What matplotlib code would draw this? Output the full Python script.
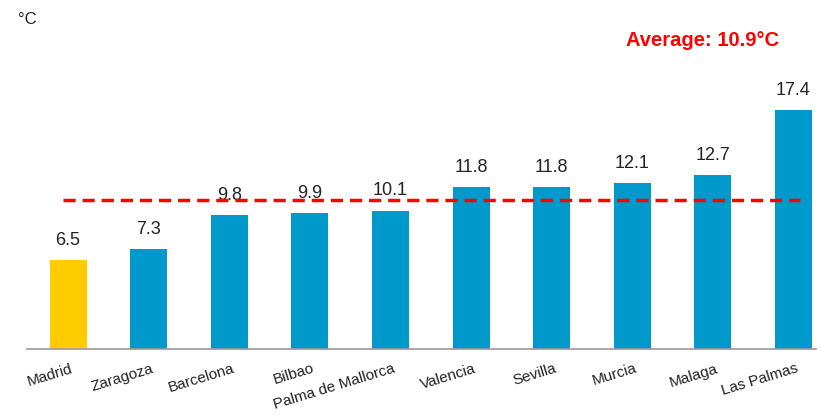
import matplotlib
matplotlib.use('Agg')
import matplotlib.pyplot as plt
import numpy as np

cities = ['Madrid', 'Zaragoza', 'Barcelona', 'Bilbao', 'Palma de Mallorca',
          'Valencia', 'Sevilla', 'Murcia', 'Malaga', 'Las Palmas']
temps = [6.5, 7.3, 9.8, 9.9, 10.1, 11.8, 11.8, 12.1, 12.7, 17.4]
average = 10.9

plt.rcParams['font.family'] = ['Liberation Sans', 'DejaVu Sans']

fig = plt.figure(figsize=(8.21, 4.17), dpi=100)
ax = fig.add_axes([27/821, 68/417, (816-27)/821, (349-20)/417])

x = np.arange(len(cities))
colors = ['#FFCC00'] + ['#0099CC'] * (len(cities) - 1)
ax.bar(x, temps, width=0.46, color=colors, zorder=2)

for xi, t in zip(x, temps):
    ax.annotate('%.1f' % t, (xi, t), xytext=(0, 8), textcoords='offset points',
                ha='center', va='bottom', fontsize=13, color='#222222')

# average line
ax.plot([-0.06, 9.08], [average, average], color='#FF0000', lw=2.5,
        ls=(0, (3.5, 2)), zorder=3)
fig.text(702/821, 1 - 40/417, 'Average: 10.9°C', color='#FF0000',
         fontsize=14.5, fontweight='bold', ha='center', va='center')
fig.text(18/821, 1 - 20/417, '°C', fontsize=12, color='#222222',
         ha='left', va='center')

ax.set_xlim(-0.51, 9.28)
ax.set_ylim(0, 24)
ax.set_yticks([])
ax.set_xticks([])
for s in ['top', 'right', 'left']:
    ax.spines[s].set_visible(False)
ax.spines['bottom'].set_color('#999999')
ax.spines['bottom'].set_linewidth(1.2)

for xi, name in zip(x, cities):
    ax.annotate(name, (xi + 0.03, 0), xycoords=('data', 'data'),
                xytext=(0, -9), textcoords='offset points',
                ha='right', va='top', rotation=17, rotation_mode='anchor',
                fontsize=11, color='#222222')

fig.savefig('out.png', dpi=100)
